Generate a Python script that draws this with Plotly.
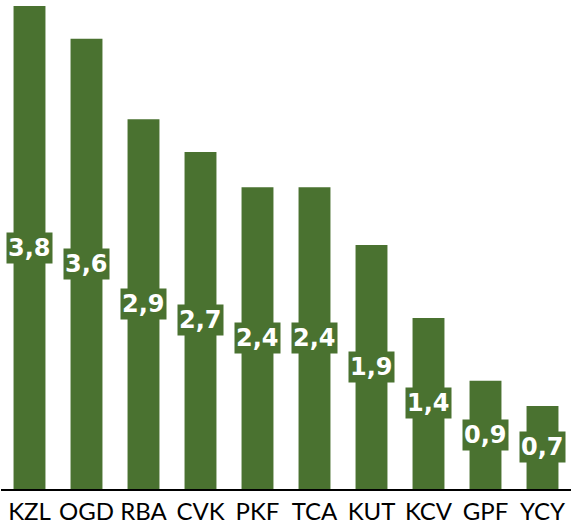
import plotly.graph_objects as go

categories = ["KZL", "OGD", "RBA", "CVK", "PKF", "TCA", "KUT", "KCV", "GPF", "YCY"]
values = [3.84, 3.58, 2.94, 2.68, 2.40, 2.40, 1.94, 1.36, 0.86, 0.66]

GREEN = "#4a7230"

fig = go.Figure(go.Bar(x=categories, y=values, marker=dict(color=GREEN, line=dict(width=0)),
                       width=0.56, hoverinfo="skip"))

for c, v in zip(categories, values):
    fig.add_annotation(x=c, y=v / 2, text=f"{v:.1f}".replace(".", ","), showarrow=False,
                       font=dict(family="DejaVu Sans", size=24, color="white", weight="bold"),
                       bgcolor=GREEN, borderpad=1, xanchor="center", yanchor="middle")

fig.update_layout(
    width=571, height=531,
    margin=dict(l=1, r=0, t=6, b=42),
    plot_bgcolor="white", paper_bgcolor="white",
    showlegend=False,
    xaxis=dict(showline=True, linecolor="black", linewidth=2, ticks="", showgrid=False,
               tickfont=dict(family="Lato", size=24, color="black"), range=[-0.5, 9.5]),
    yaxis=dict(visible=False, range=[0, 3.84], showgrid=False, zeroline=False),
)

fig.write_html("out.html", config={"displayModeBar": False},
               post_script="document.body.style.margin='0';document.body.style.overflow='hidden';")
